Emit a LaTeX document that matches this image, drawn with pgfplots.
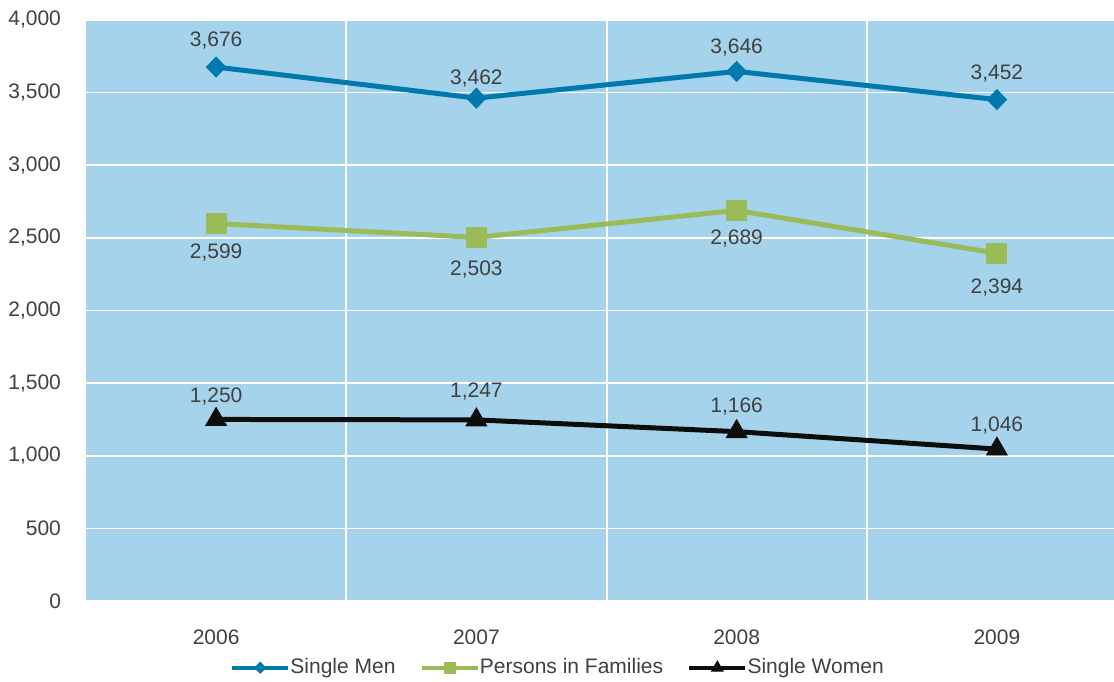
\documentclass[border=0pt]{standalone}
\usepackage{pgfplots}
\pgfplotsset{compat=1.18}
\usepackage{fontspec}
\setmainfont{Liberation Sans}

\definecolor{bgblue}{HTML}{A6D3EC}
\definecolor{menblue}{HTML}{0079AF}
\definecolor{famgreen}{HTML}{9BBB59}
\definecolor{womblack}{HTML}{0D0D0D}
\definecolor{labelgray}{HTML}{404040}

% x, value, label shift (pt)
\pgfplotstableread{
x y dy
0 3676 13.5
1 3462 10
2 3646 12
3 3452 13
}\men
\pgfplotstableread{
x y dy
0 2599 -14.5
1 2503 -16
2 2689 -14
3 2394 -17
}\fam
\pgfplotstableread{
x y dy
0 1250 11.5
1 1247 14
2 1166 12.5
3 1046 12
}\wom

\begin{document}
\begin{tikzpicture}[font=\fontsize{10.5}{12}\selectfont]
\useasboundingbox (-43pt,-40pt) rectangle (514pt,300.5pt);
\begin{axis}[
    scale only axis,
    width=514pt, height=290.5pt,
    at={(0,0)}, anchor=south west,
    xmin=-0.5, xmax=3.45,
    ymin=0, ymax=4000,
    xtick={0,1,2,3},
    xticklabels={2006,2007,2008,2009},
    minor xtick={0.5,1.5,2.5},
    ytick={0,500,...,4000},
    major tick length=0pt, minor tick length=0pt,
    axis background/.style={fill=bgblue},
    axis line style={draw=none},
    ymajorgrids, xminorgrids,
    major grid style={white, line width=0.8pt},
    minor grid style={white, line width=1pt},
    /pgf/number format/1000 sep={,},
    /pgf/number format/assume math mode=true,
    tick label style={text=labelgray},
    yticklabel style={xshift=-9pt},
    xticklabel style={yshift=-11pt},
    legend style={at={(0.46,-0.115)}, anchor=center, draw=none, fill=none,
        font=\fontsize{10.5}{12}\selectfont, text=labelgray,
        /tikz/every even column/.append style={column sep=10pt},
        /tikz/every odd column/.append style={column sep=-2pt}},
    legend columns=3,
    legend image code/.code={
        \draw[#1, mark repeat=2, mark phase=2] plot coordinates {(0pt,0pt) (14pt,0pt) (28pt,0pt)};
    },
    visualization depends on={\thisrow{dy} \as \dy},
    nodes near coords,
    every node near coord/.append style={text=labelgray, anchor=center,
        yshift=\dy pt, font=\fontsize{10.5}{12}\selectfont},
]
\addplot[color=menblue, line width=2.5pt, mark=diamond*, mark size=5pt,
    mark options={line width=0.4pt, xscale=1.3},
    legend image post style={line width=2.2pt, mark size=2.8pt}]
    table[x=x, y=y] {\men};
\addlegendentry{Single Men}

\addplot[color=famgreen, line width=2.5pt, mark=square*, mark size=5pt,
    mark options={line width=0.4pt},
    legend image post style={line width=2.2pt, mark size=2.6pt}]
    table[x=x, y=y] {\fam};
\addlegendentry{Persons in Families}

\addplot[color=womblack, line width=2.5pt, mark=triangle*, mark size=6pt,
    mark options={line width=0.4pt},
    legend image post style={line width=2.2pt, mark size=3.4pt}]
    table[x=x, y=y] {\wom};
\addlegendentry{Single Women}
\end{axis}
\end{tikzpicture}
\end{document}
